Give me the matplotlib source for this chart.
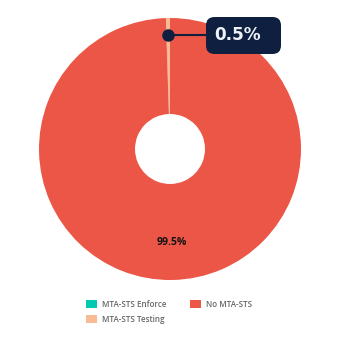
import matplotlib.pyplot as plt
from matplotlib.patches import FancyBboxPatch
import numpy as np

labels = ['MTA-STS Enforce', 'MTA-STS Testing', 'No MTA-STS']
values = [0.0, 0.5, 99.5]
colors = ['#00c9b1', '#f8bb94', '#ec5646']

plt.rcParams['font.family'] = ['Open Sans', 'DejaVu Sans']

W, H = 340, 344
fig = plt.figure(figsize=(W / 100, H / 100), dpi=100)
ax = fig.add_axes([39 / W, 64 / H, 262 / W, 262 / H])

wedges, _ = ax.pie(values, colors=colors, startangle=90, counterclock=True,
                   radius=1, wedgeprops=dict(width=0.733, linewidth=0))
ax.set_xlim(-1, 1)
ax.set_ylim(-1, 1)
ax.set_aspect('equal')
ax.axis('off')

# big slice label
w = wedges[2]
mid = np.deg2rad((w.theta1 + w.theta2) / 2)
ax.text(0.715 * np.cos(mid), 0.715 * np.sin(mid), f'{values[2]}%',
        ha='center', va='center', fontsize=7.5, fontweight='bold', color='#111111')

# small slice callout
w = wedges[1]
mid = np.deg2rad((w.theta1 + w.theta2) / 2)
px, py = 0.87 * np.cos(mid), 0.87 * np.sin(mid)
ax.plot([px, 0.3], [py, py], color='#0f1f40', lw=1.5, zorder=5)
ax.plot(px, py, 'o', color='#0f1f40', ms=8, zorder=6)

# label box (figure pixel coords)
box = FancyBboxPatch((206 / W, 1 - 54 / H), 75 / W, 37 / H,
                     boxstyle='round,pad=0,rounding_size=0.025',
                     transform=fig.transFigure, fc='#0f1f40', ec='none',
                     mutation_aspect=W / H, zorder=7)
fig.patches.append(box)
fig.text(237.5 / W, 1 - 35.5 / H, f'{values[1]}%', ha='center', va='center',
         fontsize=12.2, fontweight='bold', color='#eef2f8', zorder=8,
         family='DejaVu Sans')

fig.legend(wedges, labels, ncol=2, loc='center', bbox_to_anchor=(0.497, 0.094),
           frameon=False, labelcolor='#666666',
           prop=dict(weight='semibold', size=5.8),
           handlelength=1.4, handleheight=1.1, columnspacing=2.9,
           handletextpad=0.6, labelspacing=0.75)

fig.savefig('out.png', dpi=100)
